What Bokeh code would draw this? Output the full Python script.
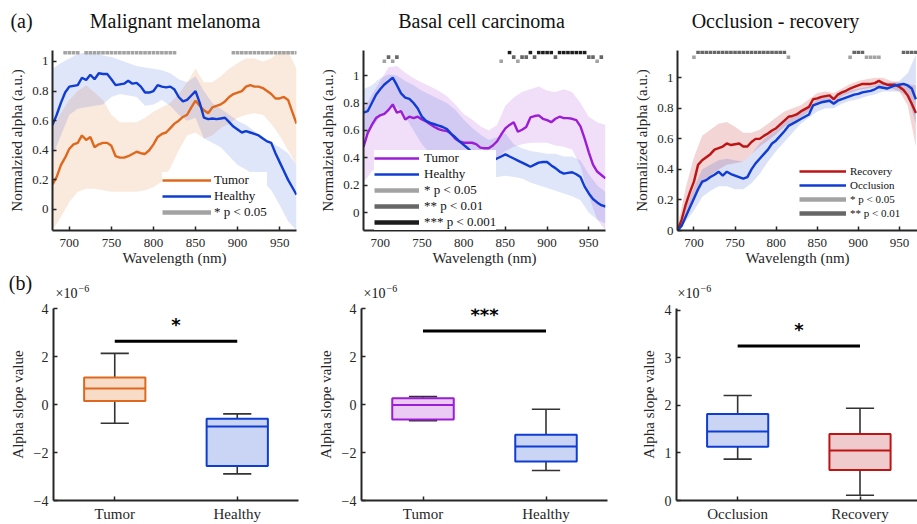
from bokeh.plotting import figure
from bokeh.layouts import column, row
from bokeh.models import Range1d, FixedTicker, Legend, LegendItem, ColumnDataSource
from bokeh.transform import dodge
from bokeh.embed import file_html
from bokeh.resources import INLINE
from bokeh.core.properties import value

# ------------------------------------------------------------------ data
wavelength = list(range(680, 971, 5))          # mean curves
band_wavelength = list(range(680, 971, 10))    # shaded bands
wl_ticks = [700, 750, 800, 850, 900, 950]
alpha_ticks = [0, 0.2, 0.4, 0.6, 0.8, 1]
alpha_tick_labels = ["0", "0.2", "0.4", "0.6", "0.8", "1"]
panel_titles = ["Malignant melanoma", "Basal cell carcinoma", "Occlusion - recovery"]

# (a) Malignant melanoma
mm_tumor = [0.17, 0.22, 0.30, 0.35, 0.41, 0.44, 0.45, 0.50, 0.47, 0.49,
            0.42, 0.44, 0.45, 0.45, 0.43, 0.36, 0.35, 0.35, 0.36, 0.375,
            0.39, 0.38, 0.375, 0.40, 0.44, 0.49, 0.51, 0.52, 0.55, 0.58,
            0.60, 0.625, 0.64, 0.69, 0.735, 0.70, 0.67, 0.65, 0.69, 0.70,
            0.71, 0.73, 0.76, 0.78, 0.79, 0.80, 0.83, 0.84, 0.83, 0.83,
            0.82, 0.80, 0.78, 0.75, 0.75, 0.76, 0.74, 0.66, 0.58]
mm_healthy = [0.57, 0.64, 0.72, 0.79, 0.83, 0.835, 0.84, 0.89, 0.875, 0.91,
              0.88, 0.92, 0.915, 0.915, 0.88, 0.84, 0.845, 0.85, 0.87, 0.85,
              0.855, 0.83, 0.79, 0.79, 0.80, 0.84, 0.83, 0.825, 0.83, 0.81,
              0.76, 0.73, 0.74, 0.77, 0.80, 0.72, 0.62, 0.61, 0.615, 0.61,
              0.615, 0.62, 0.59, 0.56, 0.54, 0.52, 0.53, 0.52, 0.51, 0.50,
              0.48, 0.46, 0.45, 0.38, 0.32, 0.26, 0.20, 0.15, 0.10]
mm_tumor_lo = [-0.14, -0.05, 0.05, 0.12, 0.14, 0.14, 0.13, 0.12, 0.12, 0.12,
               0.12, 0.13, 0.15, 0.19, 0.28, 0.40, 0.50, 0.52, 0.48, 0.50,
               0.55, 0.58, 0.62, 0.64, 0.65, 0.64, 0.58, 0.50, 0.40, 0.30]
mm_tumor_hi = [0.55, 0.65, 0.74, 0.80, 0.84, 0.79, 0.74, 0.64, 0.59, 0.59,
               0.59, 0.62, 0.66, 0.69, 0.72, 0.78, 0.86, 0.95, 0.86, 0.86,
               0.90, 0.95, 0.99, 1.02, 1.02, 1.00, 1.02, 1.07, 1.07, 0.95]
mm_healthy_lo = [0.36, 0.50, 0.64, 0.68, 0.69, 0.70, 0.71, 0.76, 0.78, 0.77,
                 0.76, 0.70, 0.71, 0.74, 0.70, 0.64, 0.60, 0.62, 0.48, 0.45,
                 0.42, 0.36, 0.30, 0.27, 0.23, 0.19, 0.13, 0.03, -0.08, -0.14]
mm_healthy_hi = [0.95, 0.99, 1.02, 1.05, 1.06, 1.06, 1.04, 1.03, 1.01, 0.99,
                 0.97, 0.96, 0.95, 0.94, 0.92, 0.88, 0.86, 0.90, 0.80, 0.72,
                 0.68, 0.64, 0.60, 0.57, 0.53, 0.49, 0.45, 0.42, 0.38, 0.30]
mm_sig_p05 = [695, 700, 705, 710, 720, 725, 730, 735, 740, 745, 750, 755, 760,
              765, 770, 775, 780, 785, 790, 795, 800, 805, 810, 815, 820, 825,
              895, 900, 905, 910, 915, 920, 925, 930, 935, 940, 945, 950, 955,
              960, 965, 970]

# (a) Basal cell carcinoma
bcc_tumor = [0.48, 0.58, 0.64, 0.69, 0.71, 0.72, 0.75, 0.79, 0.73, 0.74,
             0.68, 0.70, 0.69, 0.70, 0.68, 0.665, 0.645, 0.625, 0.61, 0.60,
             0.595, 0.575, 0.54, 0.52, 0.51, 0.51, 0.51, 0.50, 0.475, 0.47,
             0.47, 0.49, 0.52, 0.57, 0.615, 0.64, 0.66, 0.59, 0.605, 0.625,
             0.695, 0.705, 0.71, 0.685, 0.675, 0.66, 0.685, 0.70, 0.69, 0.69,
             0.685, 0.675, 0.63, 0.54, 0.44, 0.35, 0.30, 0.275, 0.25]
bcc_healthy = [0.73, 0.74, 0.80, 0.86, 0.90, 0.935, 0.96, 0.985, 0.93, 0.87,
               0.84, 0.83, 0.80, 0.76, 0.70, 0.67, 0.655, 0.645, 0.635, 0.625,
               0.61, 0.575, 0.55, 0.52, 0.495, 0.47, 0.44, 0.425, 0.41, 0.40,
               0.39, 0.38, 0.395, 0.41, 0.425, 0.41, 0.395, 0.38, 0.365, 0.35,
               0.335, 0.35, 0.365, 0.37, 0.37, 0.345, 0.325, 0.30, 0.285, 0.29,
               0.295, 0.28, 0.26, 0.19, 0.14, 0.10, 0.075, 0.055, 0.045]
bcc_tumor_lo = [0.22, 0.30, 0.36, 0.40, 0.40, 0.38, 0.37, 0.36, 0.35, 0.35,
                0.35, 0.35, 0.35, 0.35, 0.36, 0.37, 0.40, 0.45, 0.48, 0.50,
                0.51, 0.51, 0.51, 0.49, 0.48, 0.46, 0.34, 0.12, -0.05, -0.13]
bcc_tumor_hi = [0.75, 0.86, 0.96, 1.06, 1.07, 1.02, 0.98, 0.95, 0.92, 0.89,
                0.85, 0.79, 0.72, 0.68, 0.63, 0.60, 0.64, 0.78, 0.84, 0.88,
                0.90, 0.92, 0.89, 0.88, 0.90, 0.88, 0.80, 0.70, 0.66, 0.64]
bcc_healthy_lo = [0.55, 0.62, 0.70, 0.76, 0.77, 0.70, 0.60, 0.50, 0.43, 0.40,
                  0.38, 0.35, 0.32, 0.30, 0.28, 0.26, 0.26, 0.27, 0.26, 0.25,
                  0.22, 0.20, 0.18, 0.16, 0.14, 0.12, 0.09, 0.00, -0.05, -0.08]
bcc_healthy_hi = [0.90, 0.93, 0.98, 1.01, 1.00, 0.96, 0.93, 0.89, 0.86, 0.83,
                  0.80, 0.75, 0.68, 0.62, 0.57, 0.53, 0.55, 0.58, 0.50, 0.47,
                  0.45, 0.44, 0.43, 0.43, 0.41, 0.41, 0.38, 0.28, 0.20, 0.15]
bcc_sig_p05 = [705, 715, 845, 865, 960]
bcc_sig_p01 = [710, 720, 860, 870, 875, 885, 910, 950, 955, 965]
bcc_sig_p001 = [855, 880, 890, 895, 900, 905, 915, 920, 925, 930, 935, 940, 945]

# (a) Occlusion - recovery
or_recovery = [0.0, 0.07, 0.17, 0.25, 0.32, 0.43, 0.46, 0.48, 0.50, 0.53,
               0.54, 0.55, 0.57, 0.56, 0.565, 0.57, 0.55, 0.55, 0.58, 0.60,
               0.60, 0.62, 0.635, 0.655, 0.67, 0.695, 0.72, 0.745, 0.75, 0.76,
               0.78, 0.795, 0.81, 0.86, 0.865, 0.875, 0.88, 0.885, 0.86, 0.89,
               0.905, 0.915, 0.93, 0.94, 0.95, 0.96, 0.96, 0.96, 0.965, 0.98,
               0.965, 0.955, 0.955, 0.955, 0.94, 0.92, 0.885, 0.83, 0.77]
or_occlusion = [0.0, 0.03, 0.09, 0.15, 0.21, 0.27, 0.32, 0.33, 0.35, 0.365,
                0.385, 0.36, 0.385, 0.37, 0.36, 0.35, 0.34, 0.35, 0.40, 0.44,
                0.47, 0.50, 0.53, 0.57, 0.59, 0.62, 0.65, 0.685, 0.70, 0.715,
                0.73, 0.745, 0.76, 0.82, 0.83, 0.84, 0.845, 0.85, 0.83, 0.85,
                0.86, 0.87, 0.88, 0.89, 0.895, 0.905, 0.91, 0.915, 0.925, 0.94,
                0.935, 0.93, 0.94, 0.95, 0.955, 0.96, 0.95, 0.93, 0.86]
or_recovery_lo = [0.0, 0.10, 0.20, 0.30, 0.36, 0.40, 0.43, 0.44, 0.45, 0.50,
                  0.55, 0.59, 0.63, 0.68, 0.71, 0.74, 0.78, 0.83, 0.85, 0.83,
                  0.88, 0.90, 0.92, 0.93, 0.94, 0.93, 0.93, 0.91, 0.82, 0.55]
or_recovery_hi = [0.02, 0.28, 0.48, 0.62, 0.66, 0.70, 0.71, 0.68, 0.64, 0.64,
                  0.66, 0.70, 0.74, 0.78, 0.80, 0.82, 0.86, 0.90, 0.91, 0.90,
                  0.93, 0.96, 0.98, 0.99, 1.00, 1.00, 0.98, 0.97, 0.96, 0.95]
or_occlusion_lo = [0.0, 0.06, 0.13, 0.22, 0.26, 0.29, 0.29, 0.27, 0.27, 0.31,
                   0.37, 0.45, 0.52, 0.58, 0.64, 0.70, 0.74, 0.78, 0.80, 0.80,
                   0.83, 0.85, 0.86, 0.88, 0.89, 0.91, 0.91, 0.91, 0.88, 0.70]
or_occlusion_hi = [0.02, 0.15, 0.28, 0.40, 0.43, 0.46, 0.47, 0.46, 0.45, 0.50,
                   0.57, 0.62, 0.66, 0.72, 0.74, 0.78, 0.80, 0.86, 0.88, 0.87,
                   0.90, 0.92, 0.93, 0.94, 0.95, 0.97, 0.97, 0.98, 1.03, 1.15]
or_sig_p05 = [700, 815, 890, 910, 915, 920, 925]
or_sig_p01 = [705, 710, 715, 720, 725, 730, 735, 740, 745, 750, 755, 760, 765,
              770, 775, 780, 785, 790, 795, 800, 805, 810, 895, 900, 905, 955,
              960, 965, 970]

# (b) box plots: alpha slope value (x 1e-6)
mm_groups = ["Tumor", "Healthy"]
mm_lower = [-0.78, -2.89]
mm_q1 = [0.15, -2.56]
mm_median = [0.67, -0.92]
mm_q3 = [1.13, -0.59]
mm_upper = [2.13, -0.39]
mm_bar = 2.64

bcc_groups = ["Tumor", "Healthy"]
bcc_lower = [-0.67, -2.75]
bcc_q1 = [-0.62, -2.38]
bcc_median = [-0.02, -1.75]
bcc_q3 = [0.26, -1.26]
bcc_upper = [0.33, -0.20]
bcc_bar = 3.06

or_groups = ["Occlusion", "Recovery"]
or_lower = [0.87, 0.11]
or_q1 = [1.13, 0.64]
or_median = [1.45, 1.05]
or_q3 = [1.82, 1.40]
or_upper = [2.21, 1.94]
or_bar = 3.25

# ------------------------------------------------------------------ style
FONT = "Liberation Serif"
AX = "#262626"
ORANGE = "#DE691E"
BLUE = "#0F3CD2"
PURPLE = "#9B1DD6"
RED = "#BE1414"
G05 = "#A3A3A3"
G01 = "#676767"
G001 = "#1C1C1C"
WHISK = "#333333"
NAN = float("nan")


def style(p, tick_px, label_px):
    p.outline_line_color = None
    p.xgrid.visible = False
    p.ygrid.visible = False
    for ax in (p.xaxis[0], p.yaxis[0]):
        ax.axis_line_color = AX
        ax.axis_line_width = 2
        ax.major_tick_line_color = AX
        ax.major_tick_line_width = 1.5
        ax.major_tick_in = 4
        ax.major_tick_out = 0
        ax.minor_tick_line_color = None
        ax.major_label_text_font = FONT
        ax.major_label_text_font_size = f"{tick_px}px"
        ax.major_label_text_color = AX
        ax.axis_label_text_font = FONT
        ax.axis_label_text_font_size = f"{label_px}px"
        ax.axis_label_text_font_style = "normal"
        ax.axis_label_text_color = AX


def spacer(height):
    s = figure(width=917, height=height, x_range=Range1d(0, 917),
               y_range=Range1d(height, 0), output_backend="svg",
               toolbar_location=None, x_axis_location=None, y_axis_location=None,
               min_border_left=0, min_border_right=0, min_border_top=0,
               min_border_bottom=0)
    s.outline_line_color = None
    s.xgrid.visible = False
    s.ygrid.visible = False
    for g in s.grid:
        g.grid_line_color = None
    return s


def put_text(s, x, y, txt, size, align="center", font=FONT):
    s.text(x=[x], y=[y], text=[txt], text_align=align, text_baseline="middle",
           text_font=value(font), text_font_size=size, text_color="#111111")


def spectral_fig(width, left, right, x_end, y0, y1, ylabel):
    p = figure(width=width, height=234, x_range=Range1d(680, x_end),
               y_range=Range1d(y0, y1), output_backend="svg",
               toolbar_location=None, min_border_left=left,
               min_border_right=right, min_border_top=14, min_border_bottom=40)
    style(p, 13, 15)
    p.xaxis.ticker = FixedTicker(ticks=wl_ticks)
    p.yaxis.ticker = FixedTicker(ticks=alpha_ticks)
    p.yaxis.major_label_overrides = {t: l for t, l in zip(alpha_ticks, alpha_tick_labels)}
    p.xaxis.axis_label = "Wavelength (nm)"
    p.yaxis.axis_label = ylabel
    p.xaxis.major_label_standoff = 8
    p.xaxis.axis_label_standoff = 0
    p.yaxis.major_label_standoff = 4
    p.yaxis.axis_label_standoff = 4
    return p


def add_band(p, lo, hi, color, alpha):
    p.varea(x=band_wavelength, y1=lo, y2=hi, fill_color=color, fill_alpha=alpha)


def add_line(p, ys, color):
    return p.line(wavelength, ys, line_color=color, line_width=2.4)


def add_sig(p, xs, level, color):
    p.scatter(xs, [level] * len(xs), marker="square", size=3.6,
              fill_color=color, line_color=None)


def proxy(p, color):
    # legend-only line (no visible data)
    return p.line(x=[NAN, NAN], y=[NAN, NAN], line_color=color, line_width=4.5)


def add_legend(p, entries, loc, font_px, row_h, spacing, glyph_w, standoff):
    lg = Legend(items=[LegendItem(label=t, renderers=[r]) for t, r in entries],
                location=loc, orientation="vertical",
                background_fill_color="white", background_fill_alpha=1.0,
                border_line_color=None, padding=1, margin=0, spacing=spacing,
                glyph_width=glyph_w, glyph_height=row_h, label_height=row_h,
                label_standoff=standoff, label_text_font=FONT,
                label_text_font_size=f"{font_px}px", label_text_color="#111111")
    p.add_layout(lg)


# ---------------- header strip: panel tag and titles
head = spacer(36)
put_text(head, 21, 20, "(a)", "20px")
put_text(head, 174.5, 20, panel_titles[0], "20px")
put_text(head, 481, 20, panel_titles[1], "20px")
put_text(head, 775, 20, panel_titles[2], "20px")

# ---------------- (a) Malignant melanoma
f1 = spectral_fig(305, 52, 9, 970, -0.142, 1.074, "Normalzied alpha (a.u.)")
add_band(f1, mm_tumor_lo, mm_tumor_hi, ORANGE, 0.15)
add_band(f1, mm_healthy_lo, mm_healthy_hi, BLUE, 0.13)
r_t = add_line(f1, mm_tumor, ORANGE)
r_h = add_line(f1, mm_healthy, BLUE)
add_sig(f1, mm_sig_p05, 1.059, G05)
add_legend(f1, [("Tumor", r_t), ("Healthy", r_h), ("* p < 0.05", proxy(f1, G05))],
           (110, 10), 13, 14, 0, 49, 3)

# ---------------- (a) Basal cell carcinoma
f2 = spectral_fig(307, 58, 7, 970, -0.13, 1.183, "Normalzied alpha (a.u.)")
add_band(f2, bcc_tumor_lo, bcc_tumor_hi, PURPLE, 0.14)
add_band(f2, bcc_healthy_lo, bcc_healthy_hi, BLUE, 0.13)
r_t2 = add_line(f2, bcc_tumor, PURPLE)
r_h2 = add_line(f2, bcc_healthy, BLUE)
add_sig(f2, bcc_sig_p05, 1.105, G05)
add_sig(f2, bcc_sig_p01, 1.135, G01)
add_sig(f2, bcc_sig_p001, 1.168, G001)
add_legend(f2, [("Tumor", r_t2), ("Healthy", r_h2),
                ("* p < 0.05", proxy(f2, G05)),
                ("** p < 0.01", proxy(f2, G01)),
                ("*** p < 0.001", proxy(f2, G001))],
           (11, 0), 13, 14, 0, 45, 5)

# ---------------- (a) Occlusion - recovery
f3 = spectral_fig(305, 65, 0, 972, 0, 1.179, "Normalized alpha (a.u.)")
add_band(f3, or_recovery_lo, or_recovery_hi, RED, 0.18)
add_band(f3, or_occlusion_lo, or_occlusion_hi, BLUE, 0.15)
r_r = add_line(f3, or_recovery, RED)
r_o = add_line(f3, or_occlusion, BLUE)
add_sig(f3, or_sig_p05, 1.135, G05)
add_sig(f3, or_sig_p01, 1.168, G01)
add_legend(f3, [("Recovery", r_r), ("Occlusion", r_o),
                ("* p < 0.05", proxy(f3, G05)),
                ("** p < 0.01", proxy(f3, G01))],
           (122, 11), 11, 12, 2, 47, 4)

# ---------------- strip between rows: panel tag (b) and axis multipliers
mid = spacer(32)
put_text(mid, 20, 12, "(b)", "20px")
for x_mult, x_exp in [(55, 78), (363, 386), (677, 700)]:
    put_text(mid, x_mult, 23, "×10", "14px", align="left")
    put_text(mid, x_exp, 18, "−6", "10px", align="left")


# ---------------- (b) box plots
def box_fig(width, left, right, x_end, y0, y1, yticks, groups):
    p = figure(width=width, height=222, x_range=Range1d(0.5, x_end),
               y_range=Range1d(y0, y1), output_backend="svg",
               toolbar_location=None, min_border_left=left,
               min_border_right=right, min_border_top=6, min_border_bottom=23)
    style(p, 14, 15)
    p.xaxis.ticker = FixedTicker(ticks=[1, 2])
    p.xaxis.major_label_overrides = {1: groups[0], 2: groups[1]}
    p.xaxis.major_label_text_font_size = "15px"
    p.xaxis.major_label_standoff = 5
    p.yaxis.ticker = FixedTicker(ticks=yticks)
    p.yaxis.axis_label = "Alpha slope value"
    p.yaxis.major_label_standoff = 5
    p.yaxis.axis_label_standoff = 5
    return p


def add_boxes(p, lower, q1, med, q3, upper, edge, fill):
    src = ColumnDataSource(dict(x=[1, 2], lower=lower, q1=q1, med=med, q3=q3,
                                upper=upper, edge=edge, fill=fill))
    p.segment(x0="x", y0="q3", x1="x", y1="upper", source=src,
              line_color=WHISK, line_width=1.6)
    p.segment(x0="x", y0="lower", x1="x", y1="q1", source=src,
              line_color=WHISK, line_width=1.6)
    p.segment(x0=dodge("x", -0.115), y0="upper", x1=dodge("x", 0.115), y1="upper",
              source=src, line_color=WHISK, line_width=1.6)
    p.segment(x0=dodge("x", -0.115), y0="lower", x1=dodge("x", 0.115), y1="lower",
              source=src, line_color=WHISK, line_width=1.6)
    p.vbar(x="x", width=0.5, bottom="q1", top="q3", source=src,
           fill_color="fill", line_color="edge", line_width=2)
    p.segment(x0=dodge("x", -0.25), y0="med", x1=dodge("x", 0.25), y1="med",
              source=src, line_color="edge", line_width=2)


def add_sig_bar(p, y, stars):
    src = ColumnDataSource(dict(x0=[1], x1=[2], y=[y], xm=[1.5], s=[stars]))
    p.segment(x0="x0", y0="y", x1="x1", y1="y", source=src,
              line_color="black", line_width=3)
    p.text(x="xm", y="y", text="s", source=src, text_align="center",
           text_baseline="alphabetic", y_offset=-17,
           text_font=value("DejaVu Sans"), text_font_style="bold",
           text_font_size="18px", text_color="black")


f4 = box_fig(305, 53, 7, 2.5, -4, 4, [-4, -2, 0, 2, 4], mm_groups)
add_boxes(f4, mm_lower, mm_q1, mm_median, mm_q3, mm_upper,
          [ORANGE, BLUE], ["#F8DCC7", "#CAD5F5"])
add_sig_bar(f4, mm_bar, "*")

f5 = box_fig(307, 56, 5, 2.5, -4, 4, [-4, -2, 0, 2, 4], bcc_groups)
add_boxes(f5, bcc_lower, bcc_q1, bcc_median, bcc_q3, bcc_upper,
          [PURPLE, BLUE], ["#EBCBF4", "#CAD5F5"])
add_sig_bar(f5, bcc_bar, "***")

f6 = box_fig(305, 64, 0, 2.47, 0, 4.04, [0, 1, 2, 3, 4], or_groups)
add_boxes(f6, or_lower, or_q1, or_median, or_q3, or_upper,
          [BLUE, RED], ["#CAD5F5", "#F0CBCD"])
add_sig_bar(f6, or_bar, "*")

layout = column(head, row(f1, f2, f3, spacing=0), mid,
                row(f4, f5, f6, spacing=0), spacing=0)
open("out.html", "w").write(file_html(layout, INLINE, "Alpha spectra"))
